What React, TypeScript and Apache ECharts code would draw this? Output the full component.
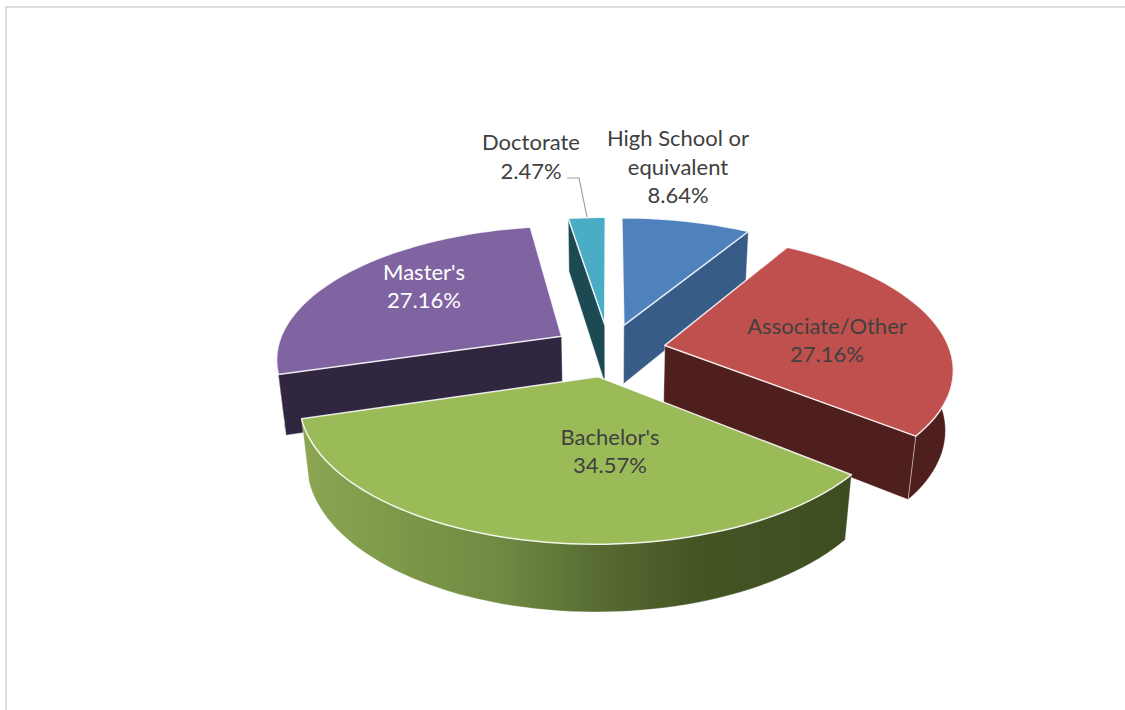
import React, { useEffect, useRef } from "react";
import * as echarts from "echarts";

// Share of respondents by highest degree, clockwise from twelve o'clock.
const categories = ["High School or\nequivalent", "Associate/Other", "Bachelor's", "Master's", "Doctorate"];
const shares = [8.64, 27.16, 34.57, 27.16, 2.47];

const topColors = ["#4f81bd", "#c0504d", "#9bbb59", "#8064a2", "#4bacc6"];
const wallColors = ["#385c88", "#4f1f1d", "#4a5b2a", "#31263f", "#1c4a52"];
const labelColors = ["#404040", "#404040", "#404040", "#ffffff", "#404040"];
const labelCentres = [
  [678, 166],
  [827, 339.5],
  [610, 450.5],
  [424, 285.5],
  [531, 156],
];

// Projection of the exploded tilted disc.
const CX = 609;
const CY = 350;
const RADIUS = 285;
const EXPLODE = 57;
const TILT = 0.462;
const PERSPECTIVE = 0.158;
const DEPTH = 61;
const DEPTH_FADE = 0.00038;
const ARC_STEP = Math.PI / 90;

type Pt = [number, number];

function project(x: number, y: number, z: number): Pt {
  const w = 1 + (PERSPECTIVE * y) / RADIUS + DEPTH_FADE * z;
  return [CX + x / w, CY - (y * TILT - z) / w];
}

const total = shares.reduce((a, b) => a + b, 0);
const startAngles: number[] = [];
shares.reduce((acc, v, i) => {
  startAngles[i] = (acc / total) * Math.PI * 2;
  return acc + v;
}, 0);

function bisector(i: number) {
  return startAngles[i] + (shares[i] / total) * Math.PI;
}

// Far slices are painted first so nearer ones overlap them.
const drawOrder = shares.map((_, i) => i).sort((a, b) => Math.cos(bisector(b)) - Math.cos(bisector(a)));

function outerWallFill(i: number) {
  if (i === 2) {
    return new echarts.graphic.LinearGradient(
      300, 0, 851, 0,
      [
        { offset: 0, color: "#8ca653" },
        { offset: 0.18, color: "#7d9849" },
        { offset: 0.36, color: "#708a42" },
        { offset: 0.55, color: "#566a32" },
        { offset: 0.72, color: "#445523" },
        { offset: 1, color: "#3e4d21" },
      ],
      true
    );
  }
  return wallColors[i];
}

function renderSlice(_params: any, api: any) {
  const i = api.value(0) as number;
  const a0 = startAngles[i];
  const a1 = a0 + (api.value(1) / total) * Math.PI * 2;
  const mid = (a0 + a1) / 2;
  const ox = EXPLODE * Math.sin(mid);
  const oy = EXPLODE * Math.cos(mid);

  const at = (t: number, z: number) => project(ox + RADIUS * Math.sin(t), oy + RADIUS * Math.cos(t), z);
  const tip = (z: number) => project(ox, oy, z);

  const arc: number[] = [];
  const steps = Math.max(2, Math.ceil((a1 - a0) / ARC_STEP));
  for (let s = 0; s <= steps; s++) arc.push(a0 + ((a1 - a0) * s) / steps);

  const edge = "rgba(255,255,255,0.85)";
  const children: any[] = [];

  // Rim wall, only the part turned towards the viewer.
  const near = arc.filter((t) => Math.cos(t) < 0.12);
  if (near.length > 1) {
    const pts = [...near.map((t) => at(t, 0)), ...near.slice().reverse().map((t) => at(t, DEPTH))];
    children.push({
      type: "polygon",
      shape: { points: pts },
      style: { fill: outerWallFill(i), stroke: "rgba(255,255,255,0.35)", lineWidth: 0.8 },
    });
  }

  // Cut faces: the start face shows when it runs left, the end face when it runs right.
  const cutFace = (t: number) => ({
    type: "polygon",
    shape: { points: [tip(0), at(t, 0), at(t, DEPTH), tip(DEPTH)] },
    style: { fill: wallColors[i], stroke: "rgba(255,255,255,0.45)", lineWidth: 0.9 },
  });
  if (Math.sin(a0) < 0) children.push(cutFace(a0));
  if (Math.sin(a1) > 0) children.push(cutFace(a1));

  children.push({
    type: "polygon",
    shape: { points: [tip(0), ...arc.map((t) => at(t, 0))] },
    style: { fill: topColors[i], stroke: edge, lineWidth: 1.5, lineJoin: "round" },
  });

  children.push({
    type: "text",
    z2: 10,
    style: {
      text: `${categories[i]}\n${shares[i].toFixed(2)}%`,
      x: labelCentres[i][0],
      y: labelCentres[i][1],
      align: "center",
      verticalAlign: "middle",
      fill: labelColors[i],
      fontFamily: "Lato",
      fontSize: 22,
      lineHeight: 28.5,
    },
  });

  return { type: "group", children };
}

export default function App() {
  const ref = useRef<HTMLDivElement>(null);

  useEffect(() => {
    const chart = echarts.init(ref.current!, undefined, { renderer: "svg" });
    chart.setOption({
      animation: false,
      backgroundColor: "#ffffff",
      graphic: [
        {
          type: "polyline",
          shape: { points: [[6, 710], [6, 7], [1125, 7]] },
          style: { fill: "none", stroke: "#dcdcdc", lineWidth: 2 },
        },
        {
          type: "polyline",
          shape: { points: [[567, 178], [579, 178], [587, 217]] },
          style: { fill: "none", stroke: "#a0a0a0", lineWidth: 1.2 },
        },
      ],
      series: [
        {
          type: "custom",
          coordinateSystem: "none",
          silent: true,
          renderItem: renderSlice,
          data: drawOrder.map((i) => [i, shares[i]]),
        },
      ],
    });
    return () => chart.dispose();
  }, []);

  return <div ref={ref} style={{ position: "fixed", left: 0, top: 0, width: 1125, height: 710 }} />;
}
